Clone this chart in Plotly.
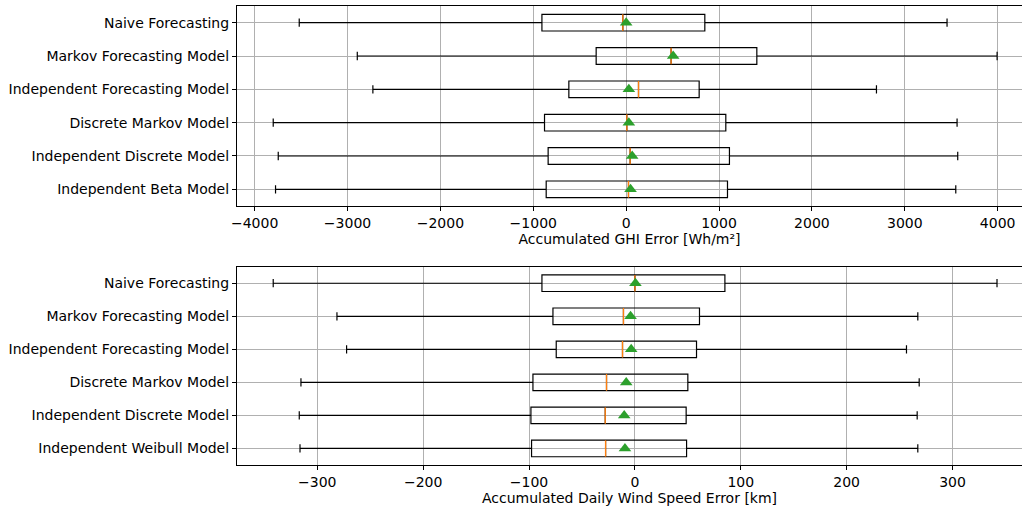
import plotly.graph_objects as go
from plotly.subplots import make_subplots

# ---- data ----
labels_ghi = ["Naive Forecasting", "Markov Forecasting Model", "Independent Forecasting Model",
              "Discrete Markov Model", "Independent Discrete Model", "Independent Beta Model"]
ghi_low = [-3520, -2895, -2727, -3800, -3746, -3775]
ghi_q1 = [-907, -323, -617, -879, -840, -861]
ghi_median = [-36, 484, 133, 7, 43, 25]
ghi_mean = [0, 506, 29, 29, 65, 47]
ghi_q3 = [847, 1407, 786, 1073, 1112, 1091]
ghi_high = [3455, 3994, 2695, 3563, 3570, 3549]

labels_wind = ["Naive Forecasting", "Markov Forecasting Model", "Independent Forecasting Model",
               "Discrete Markov Model", "Independent Discrete Model", "Independent Weibull Model"]
wind_low = [-341.6, -281.4, -272.3, -315.4, -317.0, -316.3]
wind_q1 = [-87.8, -77.4, -74.3, -96.3, -98.2, -97.6]
wind_median = [0.0, -10.8, -11.7, -26.8, -28.0, -27.7]
wind_mean = [0.5, -4.1, -3.5, -8.2, -10.1, -9.4]
wind_q3 = [85.0, 61.0, 58.2, 50.0, 48.4, 48.8]
wind_high = [342.0, 267.2, 256.5, 268.5, 266.6, 267.2]

ghi_ticks = [-4000, -3000, -2000, -1000, 0, 1000, 2000, 3000, 4000]
wind_ticks = [-300, -200, -100, 0, 100, 200, 300]

FONT = "DejaVu Sans"
FS = 14
fig = make_subplots(rows=2, cols=1, vertical_spacing=0.1)

def add_panel(row, labels, low, q1, med, mean, q3, high):
    n = len(labels)
    pos = [n - i for i in range(n)]  # first label at top
    fig.add_trace(go.Box(
        y=pos, q1=q1, median=med, q3=q3, lowerfence=low, upperfence=high,
        orientation="h", width=0.5, whiskerwidth=0.5, boxpoints=False,
        line=dict(color="black", width=1.2), fillcolor="rgba(0,0,0,0)",
        showlegend=False, hoverinfo="skip"), row=row, col=1)
    mx, my = [], []
    for p, m in zip(pos, med):
        mx += [m, m, None]
        my += [p - 0.25, p + 0.25, None]
    fig.add_trace(go.Scatter(x=mx, y=my, mode="lines",
                             line=dict(color="#ff7f0e", width=1.3),
                             showlegend=False, hoverinfo="skip"), row=row, col=1)
    fig.add_trace(go.Scatter(x=mean, y=pos, mode="markers",
                             marker=dict(symbol="triangle-up", size=11, color="#2ca02c"),
                             showlegend=False, hoverinfo="skip"), row=row, col=1)
    fig.update_yaxes(tickmode="array", tickvals=pos, ticktext=labels, range=[0.5, n + 0.5],
                     row=row, col=1)

add_panel(1, labels_ghi, ghi_low, ghi_q1, ghi_median, ghi_mean, ghi_q3, ghi_high)
add_panel(2, labels_wind, wind_low, wind_q1, wind_median, wind_mean, wind_q3, wind_high)

axis_common = dict(showgrid=True, gridcolor="#b0b0b0", gridwidth=1, zeroline=False,
                   showline=True, linecolor="black", linewidth=1.2,
                   ticks="outside", ticklen=4, tickcolor="black", automargin=False,
                   tickfont=dict(family=FONT, size=FS, color="black"))
fig.update_xaxes(**axis_common, mirror=True)
fig.update_yaxes(**axis_common, mirror=False)

fig.update_xaxes(range=[-4190, 4262], tickvals=ghi_ticks,
                 ticktext=[f"{t:d}".replace("-", "\u2212") for t in ghi_ticks],
                 title=dict(text="Accumulated GHI Error [Wh/m²]", standoff=2,
                            font=dict(family=FONT, size=FS, color="black")),
                 domain=[0, 1], row=1, col=1)
fig.update_xaxes(range=[-375.8, 365.6], tickvals=wind_ticks,
                 ticktext=[f"{t:d}".replace("-", "\u2212") for t in wind_ticks],
                 title=dict(text="Accumulated Daily Wind Speed Error [km]", standoff=2,
                            font=dict(family=FONT, size=FS, color="black")),
                 domain=[0, 1], row=2, col=1)
fig.update_yaxes(domain=[0.5643, 1.0], row=1, col=1)
fig.update_yaxes(domain=[0.0, 0.432], row=2, col=1)

fig.update_layout(width=1022, height=510, margin=dict(l=237, r=0, t=6, b=45),
                  paper_bgcolor="white", plot_bgcolor="white",
                  font=dict(family=FONT, size=FS, color="black"))

fig.write_html("out.html", config={"displayModeBar": False},
               post_script="document.body.style.margin='0px';"
                           "document.documentElement.style.overflow='hidden';")
